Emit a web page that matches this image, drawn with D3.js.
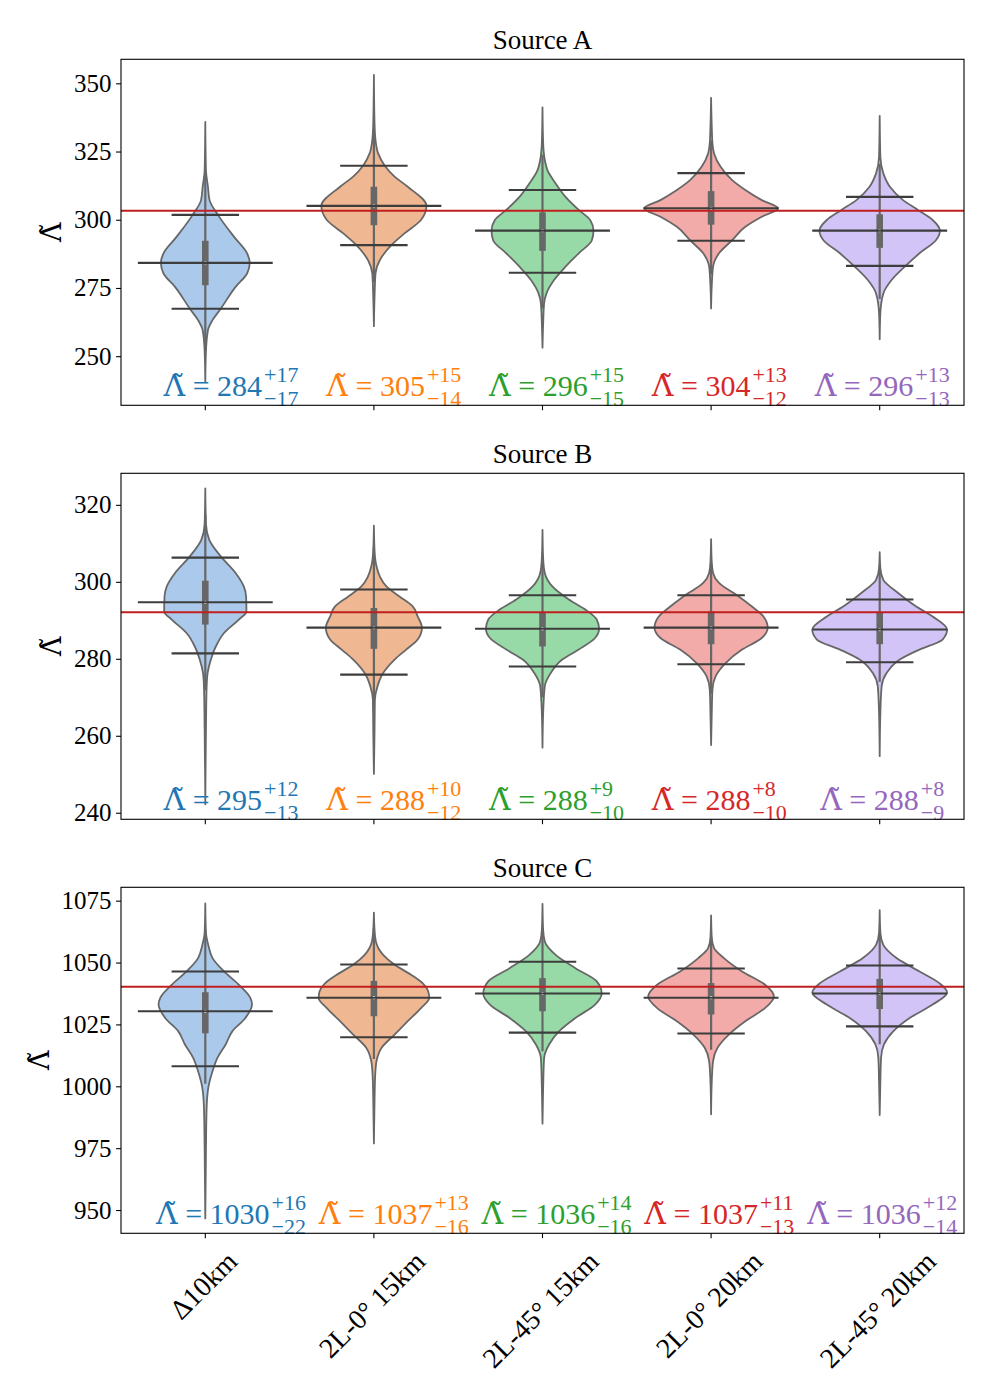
<!DOCTYPE html>
<html>
<head>
<meta charset="utf-8">
<script src="https://cdn.jsdelivr.net/npm/d3@7"></script>
<style>
  body { margin: 0; background: #fff; }
  text { font-family: "Liberation Serif", "DejaVu Serif", serif; white-space: pre; }
  .lam { font-family: "DejaVu Serif", serif; }
</style>
</head>
<body>
<div id="chart"></div>
<script>
// categories and panels
var categories = ["Δ10km", "2L-0° 15km", "2L-45° 15km", "2L-0° 20km", "2L-45° 20km"];
var sources = ["Source A", "Source B", "Source C"];

// axis limits and ticks per panel
var yLimits = [[232, 358.8], [238.3, 328.2], [940.6, 1080.4]];
var yTicks = [[250, 275, 300, 325, 350], [240, 260, 280, 300, 320], [950, 975, 1000, 1025, 1050, 1075]];
var refValues = [303.3, 292.1, 1040.2];

// summary values (panel x category)
var medians = [[284.2, 305.1, 296.0, 304.2, 296.0], [294.7, 288.1, 287.8, 288.1, 287.6], [1030.3, 1035.8, 1037.5, 1035.8, 1037.5]];
var ciHigh = [[301.8, 319.8, 310.9, 317.1, 308.4], [306.3, 298.0, 296.5, 296.5, 295.4], [1046.4, 1049.2, 1050.3, 1047.6, 1048.8]];
var ciLow = [[267.4, 290.7, 280.6, 292.3, 283.1], [281.4, 275.9, 278.0, 278.6, 279.1], [1008.1, 1019.8, 1021.7, 1021.3, 1024.2]];
var q3 = [[292.3, 312.1, 302.7, 310.5, 302.0], [300.3, 293.2, 291.9, 292.3, 291.9], [1038.0, 1042.6, 1043.7, 1041.7, 1043.4]];
var q1 = [[276.0, 298.0, 288.6, 298.2, 289.7], [288.9, 282.6, 283.2, 283.8, 283.8], [1021.4, 1028.3, 1030.3, 1029.0, 1031.2]];
var whiskHigh = [[316.5, 333, 323.8, 329, 320.5], [317.4, 309, 305, 305, 304], [1063, 1064, 1063.8, 1060.7, 1061.7]];
var whiskLow = [[252, 277, 267.5, 280, 271], [271.8, 266.7, 270, 271, 274], [1001, 1011, 1014.2, 1014.8, 1017]];

// annotation text values
var labelMedian = [[284, 305, 296, 304, 296], [295, 288, 288, 288, 288], [1030, 1037, 1036, 1037, 1036]];
var labelPlus = [[17, 15, 15, 13, 13], [12, 10, 9, 8, 8], [16, 13, 14, 11, 12]];
var labelMinus = [[17, 14, 15, 12, 13], [13, 12, 10, 10, 9], [22, 16, 16, 13, 14]];

// violin outlines: [value, relative density (0-100)]
var densityA = [
  [[240.6,0],[252,1],[259.5,3.9],[263.2,10.7],[267.4,22.9],[275.4,44.9],[280.3,62],[284.2,65.9],[287.7,62],[293.8,42.4],[301.7,19],[307.2,6.3],[312.1,3.9],[318,1],[335.9,0]],
  [[261,0],[272,1],[280.3,2.4],[285.2,8.8],[290.7,25.9],[295,45.4],[299.9,69.8],[305.1,78],[312.1,50.2],[315.8,30.7],[319.8,16.1],[324.3,6.3],[329.2,2.4],[335,1],[353.1,0]],
  [[253.1,0],[262,1],[269.3,2.4],[273,5.9],[277.9,17.1],[282.8,34.1],[287.7,53.7],[292.5,73.2],[296,75.6],[299.9,70.7],[303.6,53.7],[308.4,34.1],[313.3,19.5],[318.2,7.3],[321.9,3.4],[328,1],[341.2,0]],
  [[267.5,0],[276,1],[282.8,2.9],[287.7,11.7],[292.5,31.2],[297.4,50.7],[301.1,75.1],[304.2,99.5],[307.2,75.1],[310.9,50.7],[314.5,31.2],[319.4,14.1],[324.3,4.4],[328,2],[334,1],[344.7,0]],
  [[256.2,0],[266,1],[273,5.4],[277.9,17.6],[282.8,37.1],[287.7,59],[292.5,83.4],[296,89.3],[299.9,78.5],[303.6,56.6],[307.2,34.6],[312.1,15.1],[317,5.4],[323,1],[338.1,0]]
];
var densityB = [
  [[242.2,0],[262,1],[272.9,2],[276.3,3.4],[279.8,8.3],[283.2,15.6],[286.7,27.8],[290.2,49.8],[292.3,61],[296.2,60.5],[298.8,57.1],[302.3,44.9],[306.6,22.9],[310.9,5.9],[315,1],[324.3,0]],
  [[250.1,0],[262,1],[269.4,1.5],[272.9,5.4],[276.3,13.7],[279.8,30.7],[282.4,47.8],[285,64.9],[288.1,71.2],[291,64.9],[293.6,57.6],[296.2,38],[298.8,18.5],[301.4,8.8],[304,3.9],[308,1],[314.6,0]],
  [[256.9,0],[266,1],[272.9,3.4],[276.3,12.2],[279.8,29.3],[282.4,53.7],[285.4,78],[287.8,83.9],[290.2,80.5],[292.8,63.4],[295.4,39],[298.8,14.6],[302.3,3.4],[306,1],[313.5,0]],
  [[257.6,0],[266,1],[272,2],[275.5,6.8],[278.9,21.5],[282.4,45.9],[285.4,75.1],[288.1,83.9],[291,77.6],[293.6,60.5],[296.2,41],[299.7,11.7],[302.3,2.9],[305,1],[311.1,0]],
  [[254.7,0],[266,1],[272.9,2.9],[276.3,10.2],[279.8,29.8],[282.4,59],[285,93.2],[287.6,100],[291,78.5],[293.6,54.1],[297.1,27.3],[300.5,5.4],[303.5,1],[307.7,0]]
];
var densityC = [
  [[946.6,0],[975,1],[991.4,2],[999.4,4.4],[1006.1,10.7],[1011.5,18],[1016.9,30.2],[1022.2,40],[1027.6,59.5],[1033,69.3],[1035.7,66.8],[1041,49.8],[1046.4,27.8],[1051.8,10.7],[1057.1,4.4],[1062,1],[1073.9,0]],
  [[976.9,0],[995,1],[1005,2],[1010.2,3.9],[1015.5,11.2],[1020.9,30.7],[1026.3,50.2],[1031.6,69.8],[1035.7,82],[1038.4,80.5],[1041.7,72.2],[1045.1,55.1],[1049.1,30.7],[1053.1,13.7],[1058.5,2.9],[1063,1],[1070.2,0]],
  [[984.9,0],[1000,1],[1011.5,2.4],[1016.9,9.8],[1022.2,24.4],[1027.6,48.8],[1033,78],[1037.5,87.8],[1042.4,80.5],[1047.7,48.8],[1053.1,19.5],[1058.5,3.4],[1063,1],[1073.7,0]],
  [[988.7,0],[1002,1],[1010.2,2.9],[1015.5,9.3],[1020.9,26.3],[1026.3,50.7],[1031.6,80],[1036.3,93.2],[1041,80],[1046.4,45.9],[1051.8,19],[1055.8,4.4],[1060,1],[1069,0]],
  [[988.4,0],[1002,1],[1011.5,2],[1016.9,6.3],[1022.2,20],[1027.6,44.4],[1033,78.5],[1037.9,100],[1041.7,88.3],[1046.4,59],[1051.8,24.9],[1057.1,5.4],[1062,1],[1071.2,0]]
];
var density = [densityA, densityB, densityC];

var fills = ["#abc9ea", "#efb792", "#98daa7", "#f2aba8", "#d3c4f7"];
var textColors = ["#1f77b4", "#ff7f0e", "#2ca02c", "#d62728", "#9467bd"];

var width = 1000, height = 1400;
var left = 121, right = 964;
var panelTop = [59.3, 473.3, 887.3], panelH = 346;
var gray = "#676767", dark = "#3d3d3d";
var LAMBDA = "Λ\u0303";

var svg = d3.select("#chart").append("svg")
  .attr("width", width)
  .attr("height", height);

var x = d3.scaleBand().domain(categories).range([left, right]).padding(0);
var bw = x.bandwidth();
var wScale = d3.scaleLinear().domain([0, 100]).range([0, 0.4 * bw]);

sources.forEach(function (title, p) {
  var top = panelTop[p], bottom = top + panelH;
  var y = d3.scaleLinear().domain(yLimits[p]).range([bottom, top]);
  var g = svg.append("g");

  svg.append("clipPath").attr("id", "clip" + p)
    .append("rect").attr("x", left).attr("y", top)
    .attr("width", right - left).attr("height", panelH);
  var plot = g.append("g").attr("clip-path", "url(#clip" + p + ")");

  var area = function (cx) {
    return d3.area()
      .curve(d3.curveMonotoneY)
      .y(function (d) { return y(d[0]); })
      .x0(function (d) { return cx - wScale(d[1]); })
      .x1(function (d) { return cx + wScale(d[1]); });
  };

  categories.forEach(function (c, i) {
    var cx = x(c) + bw / 2;
    var pts = density[p][i].slice().sort(function (a, b) { return b[0] - a[0]; });
    plot.append("path")
      .attr("d", area(cx)(pts))
      .attr("fill", fills[i])
      .attr("stroke", gray)
      .attr("stroke-width", 1.8)
      .attr("stroke-linejoin", "round");
    plot.append("line")
      .attr("x1", cx).attr("x2", cx)
      .attr("y1", y(whiskHigh[p][i])).attr("y2", y(whiskLow[p][i]))
      .attr("stroke", gray).attr("stroke-width", 2.2);
    plot.append("rect")
      .attr("x", cx - 3.3).attr("width", 6.6)
      .attr("y", y(q3[p][i]))
      .attr("height", y(q1[p][i]) - y(q3[p][i]))
      .attr("fill", gray);
    plot.append("circle")
      .attr("cx", cx).attr("cy", y(medians[p][i]))
      .attr("r", 1.6).attr("fill", "#fff");
  });

  // reference value
  plot.append("line")
    .attr("x1", left).attr("x2", right)
    .attr("y1", y(refValues[p])).attr("y2", y(refValues[p]))
    .attr("stroke", "#c01f1f").attr("stroke-width", 2);

  // median and interval lines
  categories.forEach(function (c, i) {
    var cx = x(c) + bw / 2;
    [[medians[p][i], 0.4], [ciHigh[p][i], 0.2], [ciLow[p][i], 0.2]].forEach(function (m) {
      plot.append("line")
        .attr("x1", cx - m[1] * bw).attr("x2", cx + m[1] * bw)
        .attr("y1", y(m[0])).attr("y2", y(m[0]))
        .attr("stroke", dark).attr("stroke-width", 2.1);
    });
  });

  // annotations: one text element each, with stacked super/subscript
  categories.forEach(function (c, i) {
    var cxLab = left + (0.1305 + i * 0.1931) * (right - left);
    var base = bottom - 9;
    var fs = 30, ss = 22;
    var t = g.append("text")
      .attr("x", 0).attr("y", base)
      .attr("fill", textColors[i])
      .style("font-size", fs + "px");
    t.append("tspan").attr("class", "lam").style("font-size", "30px").text(LAMBDA);
    t.append("tspan").text(" = " + labelMedian[p][i]);
    var mw = t.node().getComputedTextLength();
    var sup = t.append("tspan").attr("x", mw + 2).attr("dy", -14)
      .style("font-size", ss + "px").text("+" + labelPlus[p][i]);
    var sub = t.append("tspan").attr("x", mw + 2).attr("dy", 24)
      .style("font-size", ss + "px").text("\u2212" + labelMinus[p][i]);
    var sw = Math.max(sup.node().getComputedTextLength(), sub.node().getComputedTextLength());
    t.attr("transform", "translate(" + (cxLab - (mw + 2 + sw) / 2) + ",0)");
  });

  // axes
  var ya = g.append("g")
    .attr("transform", "translate(" + left + ",0)")
    .call(d3.axisLeft(y).tickValues(yTicks[p]).tickFormat(d3.format("d")).tickSize(4.9).tickPadding(4.5));
  ya.select(".domain").remove();
  ya.selectAll("line").attr("stroke", "#000").attr("stroke-width", 1.1);
  ya.selectAll("text").style("font-size", "25px").attr("fill", "#000")
    .style("font-family", "'Liberation Serif', serif");

  var xa = g.append("g")
    .attr("transform", "translate(0," + bottom + ")")
    .call(d3.axisBottom(x).tickSize(4.9).tickFormat(""));
  xa.select(".domain").remove();
  xa.selectAll("line").attr("stroke", "#000").attr("stroke-width", 1.1);

  g.append("rect")
    .attr("x", left).attr("y", top)
    .attr("width", right - left).attr("height", panelH)
    .attr("fill", "none").attr("stroke", "#000").attr("stroke-width", 1.1);

  // title
  g.append("text")
    .attr("x", (left + right) / 2).attr("y", top - 10)
    .attr("text-anchor", "middle")
    .style("font-size", "27px")
    .text(title);

  // y label, placed left of the widest tick label
  var tickLeft = d3.min(ya.selectAll("text").nodes(), function (n) { return n.getBBox().x; }) + left;
  var lx = tickLeft - 13;
  var cy = (top + bottom) / 2;
  g.append("text")
    .attr("class", "lam")
    .attr("transform", "translate(" + lx + "," + cy + ") rotate(-90)")
    .attr("text-anchor", "middle")
    .style("font-size", "27px")
    .text(LAMBDA);

  // category labels under the last panel
  if (p === sources.length - 1) {
    var fsx = 28, c45 = Math.SQRT1_2;
    categories.forEach(function (c) {
      var tick = x(c) + bw / 2;
      var t = g.append("text")
        .attr("text-anchor", "end")
        .style("font-size", fsx + "px")
        .text(c);
      var L = t.node().getComputedTextLength();
      var a = 0.7 * fsx, d = 0.22 * fsx;
      var px = tick + c45 * (L + a - d) / 2;
      var py = bottom + 16 + a * c45;
      t.attr("transform", "translate(" + px + "," + py + ") rotate(-45)");
    });
  }
});
</script>
</body>
</html>
